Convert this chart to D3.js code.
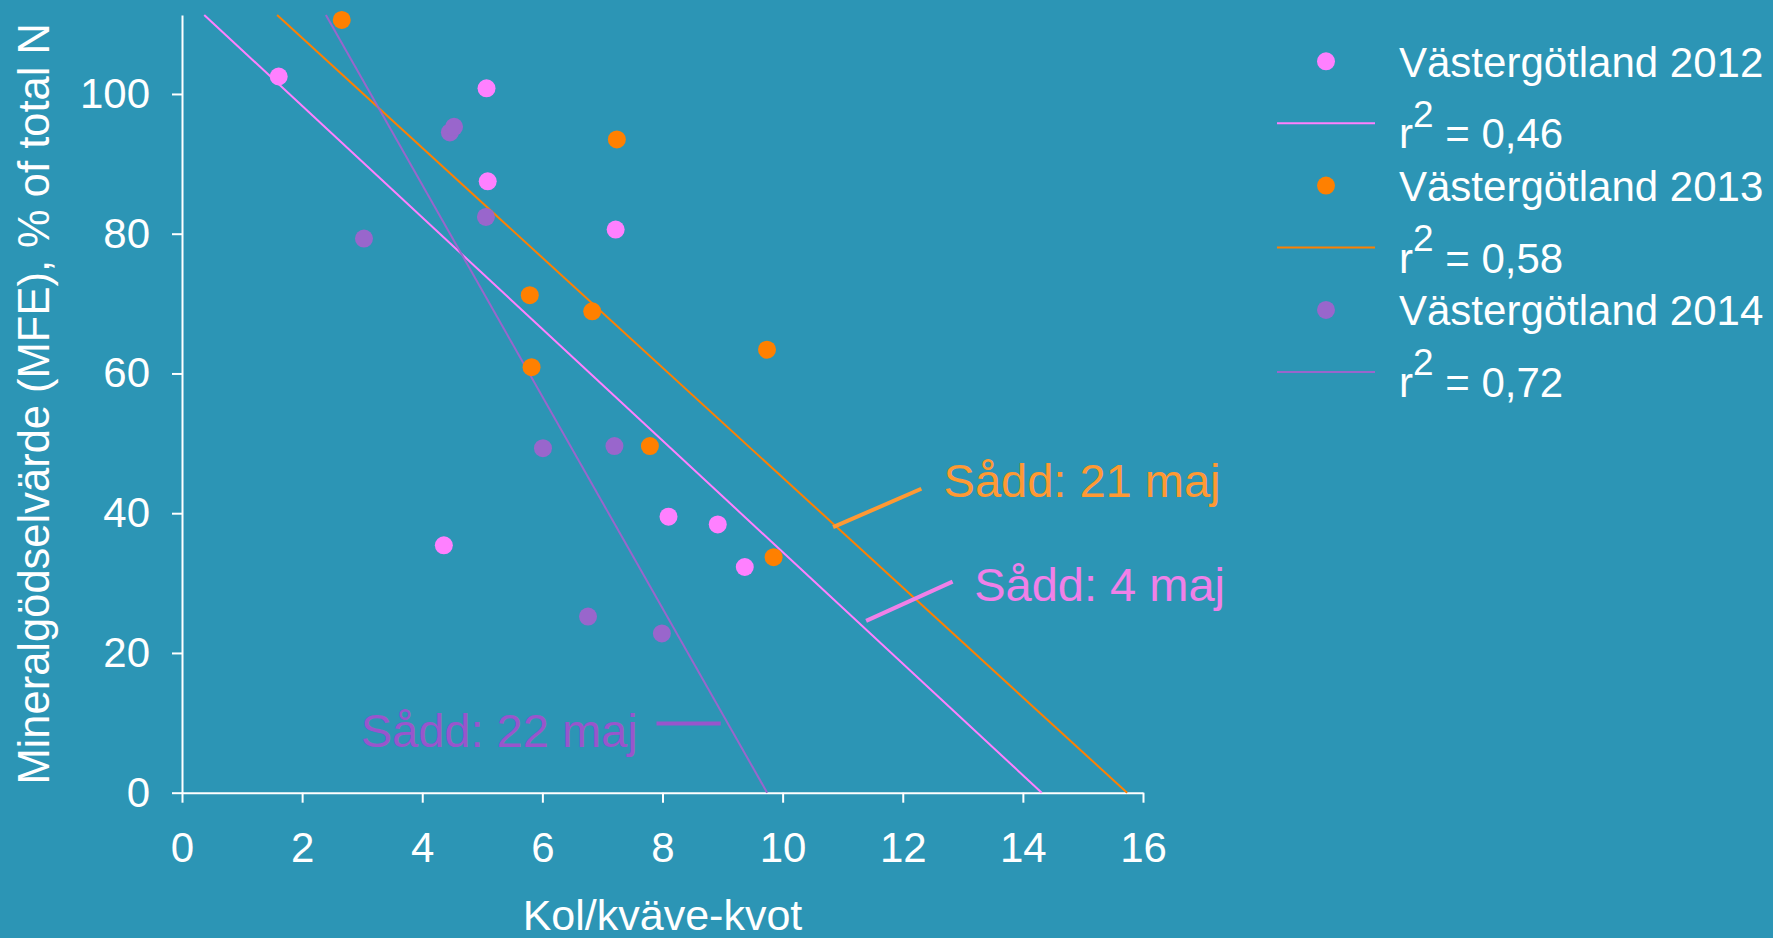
<!DOCTYPE html>
<html>
<head>
<meta charset="utf-8">
<script src="https://d3js.org/d3.v7.min.js"></script>
<style>
  html, body { margin: 0; padding: 0; background: #2c95b5; }
  svg { display: block; font-family: "Liberation Sans", Arial, sans-serif; }
  .axis path, .axis line { stroke: #ffffff; stroke-width: 2; }
  .axis text { fill: #ffffff; font-size: 42px; }
</style>
</head>
<body>
<div id="vis"></div>
<script>
// C/N ratio (x) and MFE % of total N (y)
var names = ["Västergötland 2012", "Västergötland 2013", "Västergötland 2014"];
var r2Labels = ["0,46", "0,58", "0,72"];
var dotColors = ["#ff80ff", "#ff8000", "#9966cc"];

var x2012 = [1.61, 5.07, 5.09, 7.22, 4.36, 8.10, 8.92, 9.37];
var y2012 = [102.5, 100.8, 87.5, 80.6, 35.4, 39.5, 38.4, 32.3];

var x2013 = [2.66, 7.24, 5.79, 6.83, 9.74, 5.82, 7.79, 9.85];
var y2013 = [110.6, 93.5, 71.2, 68.9, 63.4, 60.9, 49.6, 33.7];

var x2014 = [4.46, 4.53, 3.03, 5.06, 6.01, 7.20, 6.76, 7.99];
var y2014 = [94.5, 95.3, 79.3, 82.4, 49.3, 49.6, 25.2, 22.8];

var xTicks = [0, 2, 4, 6, 8, 10, 12, 14, 16];
var yTicks = [0, 20, 40, 60, 80, 100];

// annotations: label, colour, text position and connector, all in data units
var notes = [
  {text: "Sådd: 21 maj", color: "#ff9933", x: 12.68, y: 42.3, line: [[10.84, 38.0], [12.31, 43.5]]},
  {text: "Sådd: 4 maj", color: "#f080e8", x: 13.19, y: 27.5, line: [[11.39, 24.6], [12.83, 30.2]]},
  {text: "Sådd: 22 maj", color: "#9955cc", x: 2.975, y: 6.6, line: [[7.90, 9.9], [8.97, 9.9]]}
];

var series = names.map(function(n, i) {
  var xs = [x2012, x2013, x2014][i];
  var ys = [y2012, y2013, y2014][i];
  return {name: n, r2: r2Labels[i], color: dotColors[i],
          points: xs.map(function(x, j) { return {x: x, y: ys[j]}; })};
});

// least squares fit
function fit(pts) {
  var mx = d3.mean(pts, function(d) { return d.x; });
  var my = d3.mean(pts, function(d) { return d.y; });
  var sxy = d3.sum(pts, function(d) { return (d.x - mx) * (d.y - my); });
  var sxx = d3.sum(pts, function(d) { return (d.x - mx) * (d.x - mx); });
  var m = sxy / sxx;
  return {m: m, b: my - m * mx};
}

var margin = {top: 15, left: 182};
var width = 961, height = 777.7;

var svg = d3.select("#vis").append("svg")
  .attr("width", 1773)
  .attr("height", 938);

svg.append("rect").attr("width", 1773).attr("height", 938).attr("fill", "#2c95b5");

var xScale = d3.scaleLinear().domain([0, 16]).range([0, width]);
var yScale = d3.scaleLinear().domain([0, 111.3]).range([height, 0]);

var g = svg.append("g")
  .attr("transform", "translate(" + margin.left + "," + margin.top + ")");

// axes
var xAxis = d3.axisBottom(xScale).tickValues(xTicks).tickSize(10).tickPadding(29).tickSizeOuter(0);
var yAxis = d3.axisLeft(yScale).tickValues(yTicks).tickSize(10).tickPadding(22).tickSizeOuter(0);

g.append("g").attr("class", "axis")
  .attr("transform", "translate(0," + height + ")")
  .call(xAxis);
g.append("g").attr("class", "axis").call(yAxis);
g.selectAll(".axis .domain").attr("fill", "none");

// axis titles
svg.append("text")
  .attr("x", margin.left + width / 2)
  .attr("y", 930)
  .attr("text-anchor", "middle")
  .attr("fill", "#ffffff")
  .style("font-size", "43px")
  .text("Kol/kväve-kvot");

svg.append("text")
  .attr("transform", "translate(49," + (margin.top + height / 2) + ") rotate(-90)")
  .attr("text-anchor", "middle")
  .attr("fill", "#ffffff")
  .style("font-size", "43.5px")
  .text("Mineralgödselvärde (MFE), % of total N");

// trend lines, from top of plot down to y = 0
var yMax = yScale.domain()[1];
series.forEach(function(s) {
  var f = fit(s.points);
  var x1 = (yMax - f.b) / f.m, x2 = -f.b / f.m;
  g.append("line")
    .attr("x1", xScale(x1)).attr("y1", yScale(yMax))
    .attr("x2", xScale(x2)).attr("y2", yScale(0))
    .attr("stroke", s.color)
    .attr("stroke-width", 2);
});

// points
series.forEach(function(s) {
  g.selectAll(null).data(s.points).enter().append("circle")
    .attr("cx", function(d) { return xScale(d.x); })
    .attr("cy", function(d) { return yScale(d.y); })
    .attr("r", 9)
    .attr("fill", s.color);
});

// annotations
notes.forEach(function(n) {
  g.append("line")
    .attr("x1", xScale(n.line[0][0])).attr("y1", yScale(n.line[0][1]))
    .attr("x2", xScale(n.line[1][0])).attr("y2", yScale(n.line[1][1]))
    .attr("stroke", n.color)
    .attr("stroke-width", 4);
  g.append("text")
    .attr("x", xScale(n.x))
    .attr("y", yScale(n.y))
    .attr("fill", n.color)
    .style("font-size", "47px")
    .text(n.text);
});

// legend
var legend = svg.append("g").attr("transform", "translate(0,61.3)");
series.forEach(function(s, i) {
  var row = legend.append("g").attr("transform", "translate(0," + (i * 124.3) + ")");
  row.append("circle").attr("cx", 1326).attr("cy", 0).attr("r", 9).attr("fill", s.color);
  row.append("text")
    .attr("x", 1399).attr("y", 15.4)
    .attr("fill", "#ffffff")
    .style("font-size", "42px")
    .text(s.name);
  row.append("line")
    .attr("x1", 1277).attr("x2", 1375)
    .attr("y1", 62).attr("y2", 62)
    .attr("stroke", s.color)
    .attr("stroke-width", 2);
  var t = row.append("text")
    .attr("x", 1399).attr("y", 87)
    .attr("fill", "#ffffff")
    .style("font-size", "42px");
  t.append("tspan").text("r");
  t.append("tspan").attr("dy", -21.6).style("font-size", "37px").text("2");
  t.append("tspan").attr("dy", 21.6).text(" = " + s.r2);
});
</script>
</body>
</html>
